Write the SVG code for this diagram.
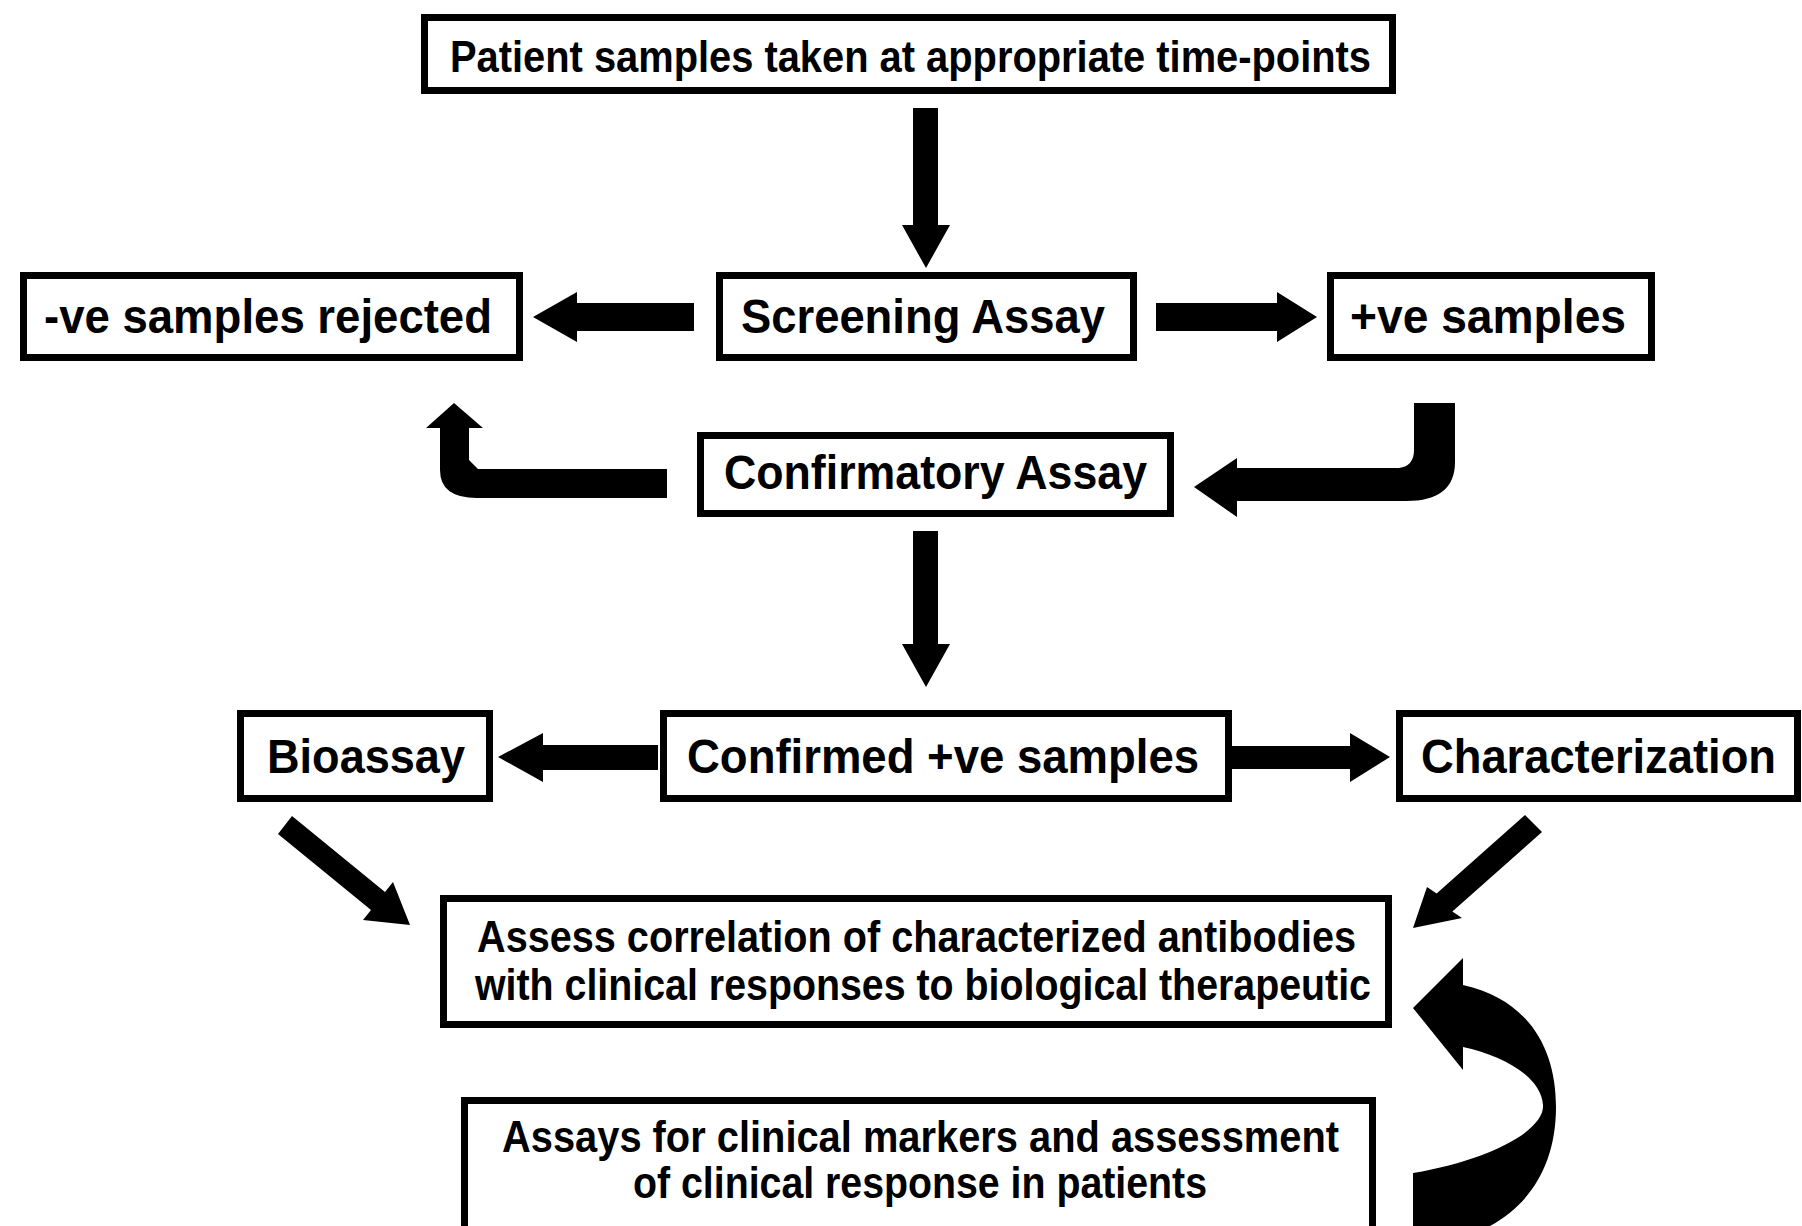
<svg xmlns="http://www.w3.org/2000/svg" width="1802" height="1226" viewBox="0 0 1802 1226">
<style>
.box{fill:#fff;stroke:#000;stroke-width:7}
.t{font-family:"Liberation Sans",Arial,sans-serif;font-weight:bold;fill:#000;text-anchor:middle}
.big{font-size:48px}
.mid{font-size:45px}
.arr{fill:#000;stroke:none}
</style>
<rect width="1802" height="1226" fill="#fff"/>
<g id="connectors">
<polygon class="arr" points="913,108 938,108 938,225 950,225 926,268 902,225 913,225"/>
<polygon class="arr" points="694,303 577,303 577,292 533,317 577,342 577,331 694,331"/>
<polygon class="arr" points="1156,303 1277,303 1277,292 1317,317 1277,342 1277,331 1156,331"/>
<path class="arr" d="M667,469 L478,469 L469,460 L469,428 L483,428 L454,403 L426,428 L440,428 L440,470 Q440,498 477,498 L667,498 Z"/>
<path class="arr" d="M1414,403 L1455,403 L1455,462 Q1455,501 1406,501 L1237,501 L1237,517 L1194,487 L1237,458 L1237,468 L1399,468 Q1414,466 1414,450 Z"/>
<polygon class="arr" points="913,531 938,531 938,644 950,644 926,687 902,644 913,644"/>
<polygon class="arr" points="658,745 543,745 543,733 498,757 543,782 543,770 658,770"/>
<polygon class="arr" points="1232,746 1350,746 1350,733 1390,757 1350,782 1350,769 1232,769"/>
<polygon class="arr" points="292,816 385,892 393,882 410,925 363,920 371,910 278,834"/>
<polygon class="arr" points="1525,815 1436.6,893.5 1427,887 1413,928 1462,918 1452.4,911.5 1542,832"/>
<path class="arr" d="M1413,1230 L1413,1173 C1490,1160 1545,1130 1543,1105 C1541,1075 1500,1055 1463,1047 L1463,1070 L1413,1008 L1463,958 L1463,985 C1530,1000 1556,1050 1556,1107 C1556,1170 1525,1210 1482,1230 Z"/>
</g>
<g id="n_patient">
<rect class="box" x="424.5" y="17.5" width="968" height="73"/>
<text class="t mid" x="910.5" y="72" textLength="921" lengthAdjust="spacingAndGlyphs">Patient samples taken at appropriate time-points</text>
</g>
<g id="n_negative">
<rect class="box" x="23.5" y="275.5" width="496" height="82"/>
<text class="t big" x="268" y="333" textLength="448" lengthAdjust="spacingAndGlyphs">-ve samples rejected</text>
</g>
<g id="n_screening">
<rect class="box" x="719.5" y="275.5" width="414" height="82"/>
<text class="t big" x="923" y="333" textLength="364" lengthAdjust="spacingAndGlyphs">Screening Assay</text>
</g>
<g id="n_positive">
<rect class="box" x="1330.5" y="275.5" width="321" height="82"/>
<text class="t big" x="1488" y="333" textLength="276" lengthAdjust="spacingAndGlyphs">+ve samples</text>
</g>
<g id="n_confirmatory">
<rect class="box" x="700.5" y="435.5" width="470" height="78"/>
<text class="t big" x="935.5" y="489" textLength="423" lengthAdjust="spacingAndGlyphs">Confirmatory Assay</text>
</g>
<g id="n_bioassay">
<rect class="box" x="240.5" y="713.5" width="249" height="85"/>
<text class="t big" x="366" y="773" textLength="198" lengthAdjust="spacingAndGlyphs">Bioassay</text>
</g>
<g id="n_confirmed">
<rect class="box" x="663.5" y="713.5" width="565" height="85"/>
<text class="t big" x="943" y="773" textLength="512" lengthAdjust="spacingAndGlyphs">Confirmed +ve samples</text>
</g>
<g id="n_characterization">
<rect class="box" x="1399.5" y="713.5" width="398" height="85"/>
<text class="t big" x="1598.5" y="773" textLength="355" lengthAdjust="spacingAndGlyphs">Characterization</text>
</g>
<g id="n_assess">
<rect class="box" x="443.5" y="898.5" width="945" height="126"/>
<text class="t mid" x="916.5" y="952" textLength="879" lengthAdjust="spacingAndGlyphs">Assess correlation of characterized antibodies</text>
<text class="t mid" x="923" y="1000" textLength="896" lengthAdjust="spacingAndGlyphs">with clinical responses to biological therapeutic</text>
</g>
<g id="n_assays">
<rect class="box" x="464.5" y="1100.5" width="908" height="140"/>
<text class="t mid" x="920.5" y="1152" textLength="837" lengthAdjust="spacingAndGlyphs">Assays for clinical markers and assessment</text>
<text class="t mid" x="920" y="1198" textLength="574" lengthAdjust="spacingAndGlyphs">of clinical response in patients</text>
</g>
</svg>
